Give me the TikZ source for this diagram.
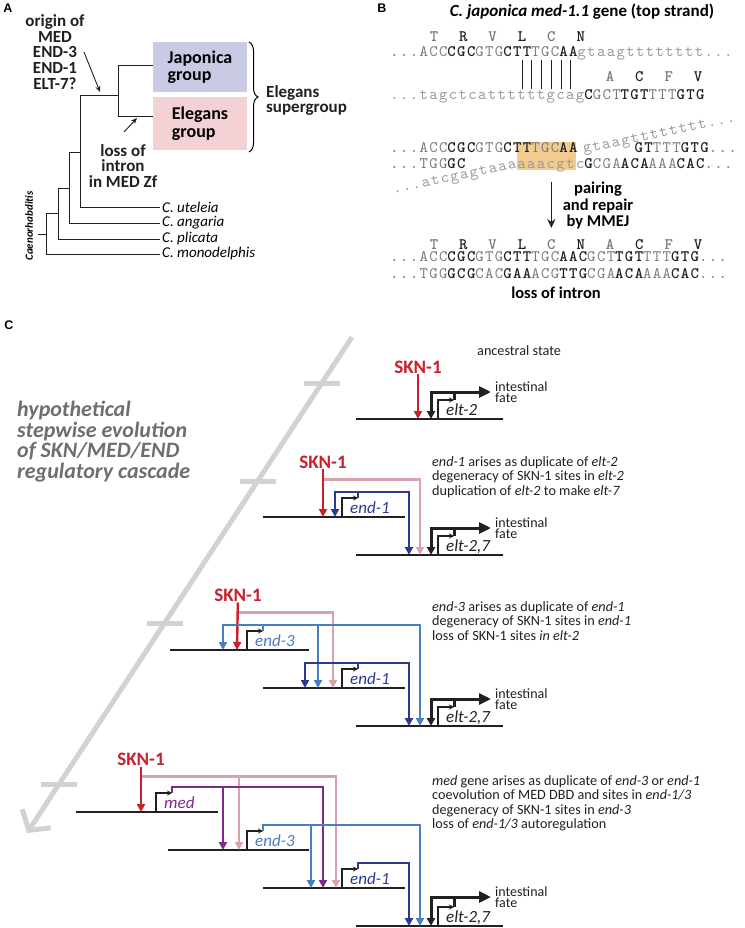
\documentclass[tikz,border=0pt]{standalone}
\usepackage{fontspec}
\setmainfont{Carlito}
\newfontfamily\panelfont{Liberation Sans}
\IfFontExistsTF{lmmono10-regular.otf}
  {\newfontfamily\seqfont{lmmono10-regular.otf}[BoldFont=lmmonolt10-bold.otf, LetterSpace=8.6]}
  {\newfontfamily\seqfont{Liberation Mono}[LetterSpace=1.1]}
\usetikzlibrary{arrows.meta, positioning, calc, decorations.pathreplacing}

\definecolor{sknred}{HTML}{C8202F}
\definecolor{sknpink}{HTML}{D9A3AC}
\definecolor{endnavy}{HTML}{2B3990}
\definecolor{endblue}{HTML}{4A7EC2}
\definecolor{medpurple}{HTML}{7D2B8B}
\definecolor{inkblack}{HTML}{231F20}
\definecolor{seqgray}{HTML}{7A7A7A}
\definecolor{intgray}{HTML}{9A9A9A}
\definecolor{japblue}{HTML}{C9CBE5}
\definecolor{elegpink}{HTML}{F3D1D5}
\definecolor{mmejtan}{HTML}{F2CC8F}
\definecolor{timegray}{HTML}{D2D2D2}
\definecolor{cascgray}{HTML}{6D6E71}

% sequence colouring
\newcommand\seqg[1]{\textcolor{seqgray}{#1}}
\newcommand\seqk[1]{{\bfseries\color{inkblack}#1}}
\newcommand\seqi[1]{\textcolor{intgray}{#1}}

% one gene: name, left, right, baseline, promoter x, colour, label
\newcommand{\gene}[7]{%
  \coordinate (#1-l) at (#2,#4);
  \coordinate (#1-r) at (#3,#4);
  \coordinate (#1-p) at (#5,#4);
  \draw[geneline] (#1-l) -- (#1-r);
  \draw[promoter] (#1-p) -- ++(0,-19) -- ++(16,0) coordinate (#1-tip);
  \node[genelab, text=#6, anchor=base west] (#1-lab) at ($(#1-p)+(8,-4)$) {#7};
}

\begin{document}
\begin{tikzpicture}[x=1pt, y=-1pt,
  panellab/.style={font=\panelfont\bfseries\fontsize{12.5}{13}\selectfont, inner sep=0pt},
  albl/.style={font=\bfseries\fontsize{17}{15.8}\selectfont, align=center, inner sep=0pt, text=inkblack},
  species/.style={font=\itshape\fontsize{15}{15}\selectfont, anchor=west, inner sep=2pt},
  groupbox/.style={minimum width=94pt, inner sep=0pt, align=left, font=\bfseries\fontsize{18}{17.5}\selectfont},
  tree/.style={line width=0.9pt, inkblack},
  pointer/.style={line width=0.9pt, inkblack, -{Stealth[length=6pt,width=5pt]}},
  seq/.style={font=\seqfont\fontsize{16}{17}\selectfont, inner sep=0pt, anchor=base west},
  aa/.style={font=\seqfont\bfseries\fontsize{16}{17}\selectfont, inner sep=0pt, anchor=base},
  pairbar/.style={line width=0.9pt, inkblack},
  mmej/.style={line width=1.4pt, inkblack, -{Stealth[length=9pt,width=8pt]}},
  bnote/.style={font=\bfseries\fontsize{16.5}{16.5}\selectfont, align=center, inner sep=0pt},
  timeline/.style={line width=5pt, timegray, -{Straight Barb[length=14pt,width=34pt]}},
  tickbar/.style={line width=5pt, timegray},
  casc/.style={font=\bfseries\itshape\fontsize{22}{20.5}\selectfont, text=cascgray, align=left, inner sep=0pt, anchor=north west},
  geneline/.style={line width=1.2pt, inkblack},
  promoter/.style={line width=1.1pt, inkblack, -{Stealth[length=5pt,width=5pt]}},
  genelab/.style={font=\itshape\fontsize{17}{17}\selectfont, inner sep=0pt},
  skn/.style={font=\bfseries\fontsize{19}{19}\selectfont, text=sknred, inner sep=1pt},
  sknarrow/.style={line width=2.4pt, sknred, -{Triangle[length=8pt,width=8pt]}},
  reg/.style={line width=2.4pt, -{Triangle[length=8pt,width=8pt]}},
  fate/.style={line width=3pt, inkblack, {Triangle[length=8pt,width=8pt]}-{Triangle[length=12pt,width=11pt]}},
  fatelink/.style={line width=3pt, inkblack},
  fatetext/.style={font=\fontsize{14}{11.5}\selectfont, align=left, inner sep=0pt, anchor=west, text=inkblack},
  cnote/.style={font=\fontsize{14.2}{14.6}\selectfont, align=left, inner sep=0pt, anchor=north west, text=inkblack}
]
\useasboundingbox (0,0) rectangle (744,928);

% ---------------- panel A: phylogeny
\node[panellab] (labA) at (8,8) {A};
\node[albl] (origin) at (55,52) {origin of\\MED\\END-3\\END-1\\ELT-7?};
\node[groupbox, fill=japblue, minimum height=50pt] (japo) at (200,67) {Japonica\\group};
\node[groupbox, fill=elegpink, minimum height=53pt] (eleg) at (200,123.5) {Elegans\\group};
\node[albl, align=left, anchor=west] (super) at (266,100.5) {Elegans\\supergroup};
\node[albl] (loss) at (123,166) {loss of\\intron\\in MED Zf};
\node[species] (utel) at (160,207) {C. uteleia};
\node[species] (anga) at (160,223) {C. angaria};
\node[species] (plic) at (160,239) {C. plicata};
\node[species] (mono) at (160,254) {C. monodelphis};
\node[font=\bfseries\itshape\fontsize{11}{11}\selectfont, rotate=90, inner sep=0pt] (genus) at (29,226) {Caenorhabditis};

\coordinate (cJ) at (118,65);
\coordinate (cE) at (118,116);
\coordinate (k5) at (118,95);
\coordinate (k4) at (80,95);
\coordinate (k3) at (69,152);
\coordinate (k2) at (58,188);
\coordinate (k1) at (46,213);
\coordinate (k0) at (38,234);
\draw[tree] (japo.west |- cJ) -- (cJ) -- (cE) -- (eleg.west |- cE);
\draw[tree] (k5) -- (k4) |- (utel.west);
\draw[tree] (k4 |- k3) -- (k3) |- (anga.west);
\draw[tree] (k3 |- k2) -- (k2) |- (plic.west);
\draw[tree] (k2 |- k1) -- (k1) |- (mono.west);
\draw[tree] (k0) -- (k1 |- k0);
\draw[line width=1pt, decorate, decoration={brace, amplitude=9pt}] (249,42) -- (249,152);

\coordinate (orig-tail) at (84,52);
\coordinate (orig-head) at (100,92);
\draw[pointer] (orig-tail) -- (orig-head);
\coordinate (loss-tail) at (124,132);
\coordinate (loss-head) at (137,118);
\draw[pointer] (loss-tail) -- (loss-head);

% ---------------- panel B: intron loss by MMEJ
\node[panellab] (labB) at (382,8) {B};
\node[font=\bfseries\fontsize{17}{17}\selectfont, inner sep=0pt] (titleB) at (582,12) {\textit{C. japonica med-1.1} gene (top strand)};

\fill[mmejtan] ({390+13*9.78},142) rectangle ({390+19*9.78},170);

\foreach \i/\a/\c [count=\n] in {4/T/seqgray, 7/R/inkblack, 10/V/seqgray, 13/L/inkblack, 16/C/seqgray, 19/N/inkblack}
  \node[aa, text=\c] (aaA\n) at ({390+(\i+0.5)*9.78},42) {\a};
\node[seq] (rowA) at (390,57) {\seqg{...ACC}\seqk{CGC}\seqg{GTG}\seqk{CTT}\seqg{TGC}\seqk{AA}\seqi{gtaagtttttttt...}};
\foreach \i in {13,...,18}
  \draw[pairbar] ({390+(\i+0.5)*9.78},60) -- ++(0,29);
\foreach \i/\a/\c [count=\n] in {22/A/seqgray, 25/C/inkblack, 28/F/seqgray, 31/V/inkblack}
  \node[aa, text=\c] (aaB\n) at ({390+(\i+0.5)*9.78},82) {\a};
\node[seq] (rowB) at (390,100) {\seqi{...tagctcattttttgcag}\seqk{C}\seqg{GCT}\seqk{TGT}\seqg{TTT}\seqk{GTG}};

\node[seq] (rowC) at (390,153) {\seqg{...ACC}\seqk{CGC}\seqg{GTG}\seqk{CTT}\seqg{TGC}\seqk{AA}};
\node[seq, rotate=11.5] (intrC) at ({388+20*9.78},153) {\seqi{gtaagtttttttt...}};
\node[seq] (rowC2) at ({390+25*9.78},153) {\seqk{GT}\seqg{TTT}\seqk{GTG}\seqg{...}};
\node[seq] (rowD) at (390,168) {\seqg{...TGG}\seqk{GC}};
\node[seq, anchor=base east, rotate=11.5] (intrD) at ({390+13*9.78},168) {\seqi{...atcgagtaaa}};
\node[seq] (rowD2) at ({390+13*9.78},168) {\seqi{aaacgtc}\seqk{G}\seqg{CGA}\seqk{ACA}\seqg{AAA}\seqk{CAC}\seqg{...}};

\coordinate (pair-top) at ({390+16.5*9.78},182);
\coordinate (pair-bot) at ({390+16.5*9.78},228);
\draw[mmej] (pair-top) -- (pair-bot);
\node[bnote] (pairing) at (598,206) {pairing\\and repair\\by MMEJ};

\foreach \i/\a/\c [count=\n] in {4/T/seqgray, 7/R/inkblack, 10/V/seqgray, 13/L/inkblack, 16/C/seqgray, 19/N/inkblack, 22/A/seqgray, 25/C/inkblack, 28/F/seqgray, 31/V/inkblack}
  \node[aa, text=\c] (aaC\n) at ({390+(\i+0.5)*9.78},249) {\a};
\node[seq] (rowE) at (390,261) {\seqg{...ACC}\seqk{CGC}\seqg{GTG}\seqk{CTT}\seqg{TGC}\seqk{AAC}\seqg{GCT}\seqk{TGT}\seqg{TTT}\seqk{GTG}\seqg{...}};
\node[seq] (rowF) at (390,278) {\seqg{...TGG}\seqk{GCG}\seqg{CAC}\seqk{GAA}\seqg{ACG}\seqk{TTG}\seqg{CGA}\seqk{ACA}\seqg{AAA}\seqk{CAC}\seqg{...}};
\node[bnote] (lossB) at (556,293) {loss of intron};

% ---------------- panel C: stepwise cascade
\node[panellab] (labC) at (9,325) {C};
\coordinate (tl-top) at (352,337);
\coordinate (tl-end) at (27,833);
\draw[timeline] (tl-top) -- (tl-end);
\foreach \y in {383,481,623,784}
  \draw[tickbar] ({352-0.655*(\y-337)-18},\y) -- ++(36,0);
\node[casc] (casc) at (17,401) {hypothetical\\stepwise evolution\\of SKN/MED/END\\regulatory cascade};

% step 1: ancestral state
\gene{s1elt}{356}{503}{419}{438}{inkblack}{elt-2}
\node[cnote] (s1note) at (477,345) {ancestral state};
\node[skn] (s1skn) at (418,367) {SKN-1};
\coordinate (s1elt-red) at (418,419);
\coordinate (s1elt-blk) at (431,419);
\coordinate (s1fate) at (491,392);
\draw[sknarrow] (s1skn) -- (s1elt-red);
\draw[fatelink] (s1elt-tip) -- ++(0,-8);
\draw[fate] (s1elt-blk) |- (s1fate);
\node[fatetext, right=4pt of s1fate] (s1int) {intestinal\\fate};

% step 2: end-1
\gene{s2e1}{263}{405}{517}{342}{endnavy}{end-1}
\gene{s2elt}{356}{503}{555}{438}{inkblack}{elt-2,7}
\node[cnote] (s2note) at (432,456) {\textit{end-1} arises as duplicate of \textit{elt-2}\\degeneracy of SKN-1 sites in \textit{elt-2}\\duplication of \textit{elt-2} to make \textit{elt-7}};
\node[skn] (s2skn) at (323,462) {SKN-1};
\coordinate (s2e1-red) at (323,517);
\coordinate (s2e1-navy) at (335,517);
\coordinate (s2elt-navy) at (409,555);
\coordinate (s2elt-pink) at (420,555);
\coordinate (s2elt-blk) at (431,555);
\coordinate (s2fate) at (491,528);
\draw[reg, sknpink] ([yshift=-10pt]s2skn.south) -| (s2elt-pink);
\draw[sknarrow] (s2skn) -- (s2e1-red);
\draw[reg, endnavy] (s2e1-tip) -- ++(0,-6) -| (s2e1-navy);
\draw[reg, endnavy] (s2e1-tip) -- ++(0,-6) -| (s2elt-navy);
\draw[fatelink] (s2elt-tip) -- ++(0,-8);
\draw[fate] (s2elt-blk) |- (s2fate);
\node[fatetext, right=4pt of s2fate] (s2int) {intestinal\\fate};

% step 3: end-3
\gene{s3e3}{170}{309}{650}{247}{endblue}{end-3}
\gene{s3e1}{263}{405}{688}{342}{endnavy}{end-1}
\gene{s3elt}{356}{503}{726}{438}{inkblack}{elt-2,7}
\node[cnote] (s3note) at (432,601) {\textit{end-3} arises as duplicate of \textit{end-1}\\degeneracy of SKN-1 sites in \textit{end-1}\\loss of SKN-1 sites \textit{in elt-2}};
\node[skn] (s3skn) at (238,595) {SKN-1};
\coordinate (s3e3-red) at (237,650);
\coordinate (s3e3-blue) at (223,650);
\coordinate (s3e1-navy) at (305,688);
\coordinate (s3e1-blue) at (318,688);
\coordinate (s3e1-pink) at (333,688);
\coordinate (s3elt-navy) at (409,726);
\coordinate (s3elt-blue) at (420,726);
\coordinate (s3elt-blk) at (431,726);
\coordinate (s3fate) at (491,699);
\draw[reg, sknpink] ([yshift=-10pt]s3skn.south) -| (s3e1-pink);
\draw[sknarrow] (s3skn) -- (s3e3-red);
\draw[reg, endblue] (s3e3-tip) -- ++(0,-6) -| (s3e3-blue);
\draw[reg, endblue] (s3e3-tip) -- ++(0,-6) -| (s3e1-blue);
\draw[reg, endblue] (s3e3-tip) -- ++(0,-6) -| (s3elt-blue);
\draw[reg, endnavy] (s3e1-tip) -- ++(0,-6) -| (s3e1-navy);
\draw[reg, endnavy] (s3e1-tip) -- ++(0,-6) -| (s3elt-navy);
\draw[fatelink] (s3elt-tip) -- ++(0,-8);
\draw[fate] (s3elt-blk) |- (s3fate);
\node[fatetext, right=4pt of s3fate] (s3int) {intestinal\\fate};

% step 4: med
\gene{s4med}{76}{218}{812}{156}{medpurple}{med}
\gene{s4e3}{168}{309}{850}{247}{endblue}{end-3}
\gene{s4e1}{263}{405}{888}{342}{endnavy}{end-1}
\gene{s4elt}{356}{503}{926}{438}{inkblack}{elt-2,7}
\node[cnote] (s4note) at (432,775) {\textit{med} gene arises as duplicate of \textit{end-3} or \textit{end-1}\\coevolution of MED DBD and sites in \textit{end-1/3}\\degeneracy of SKN-1 sites in \textit{end-3}\\loss of \textit{end-1/3} autoregulation};
\node[skn] (s4skn) at (141,759) {SKN-1};
\coordinate (s4med-red) at (141,812);
\coordinate (s4e3-purp) at (223,850);
\coordinate (s4e3-pink) at (239,850);
\coordinate (s4e1-blue) at (311,888);
\coordinate (s4e1-purp) at (323,888);
\coordinate (s4e1-pink) at (336,888);
\coordinate (s4elt-navy) at (409,926);
\coordinate (s4elt-blue) at (420,926);
\coordinate (s4elt-blk) at (431,926);
\coordinate (s4fate) at (491,897);
\draw[reg, sknpink] ([yshift=-10pt]s4skn.south) -| (s4e3-pink);
\draw[reg, sknpink] ([yshift=-10pt]s4skn.south) -| (s4e1-pink);
\draw[sknarrow] (s4skn) -- (s4med-red);
\draw[reg, medpurple] (s4med-tip) -- ++(0,-6) -| (s4e3-purp);
\draw[reg, medpurple] (s4med-tip) -- ++(0,-6) -| (s4e1-purp);
\draw[reg, endblue] (s4e3-tip) -- ++(0,-6) -| (s4e1-blue);
\draw[reg, endblue] (s4e3-tip) -- ++(0,-6) -| (s4elt-blue);
\draw[reg, endnavy] (s4e1-tip) -- ++(0,-6) -| (s4elt-navy);
\draw[fatelink] (s4elt-tip) -- ++(0,-8);
\draw[fate] (s4elt-blk) |- (s4fate);
\node[fatetext, right=4pt of s4fate] (s4int) {intestinal\\fate};
\end{tikzpicture}
\end{document}
